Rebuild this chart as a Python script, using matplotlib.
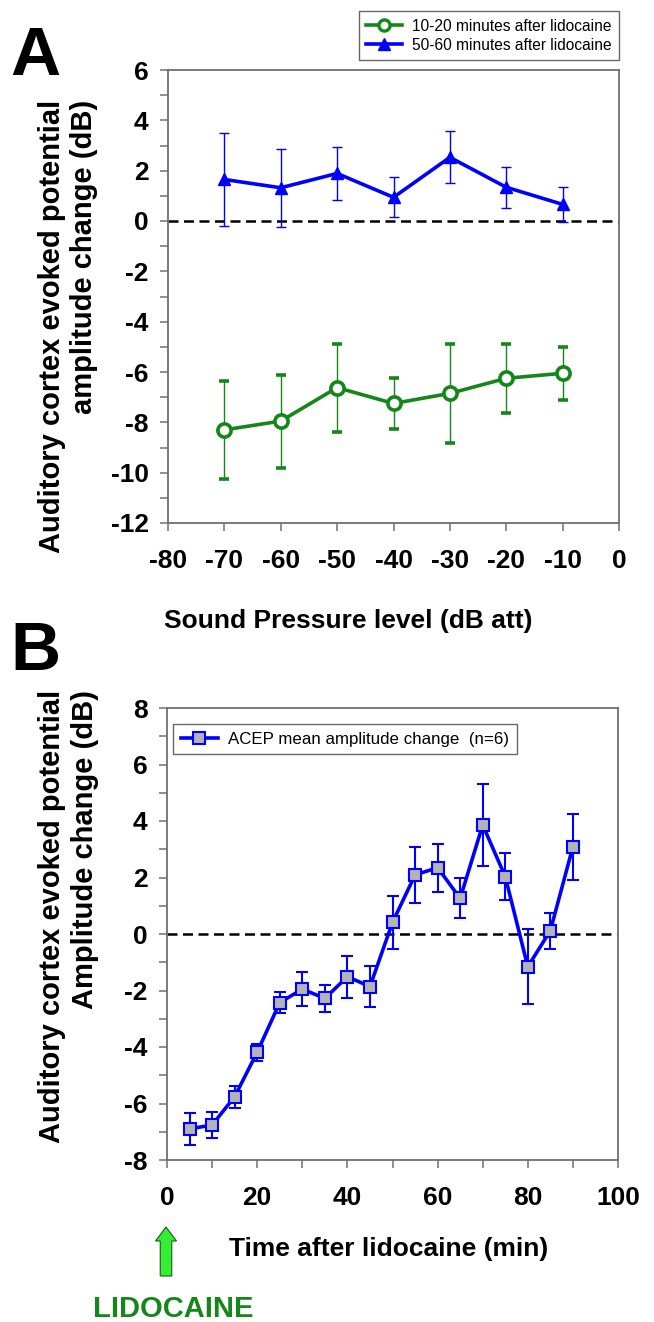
import matplotlib.pyplot as plt
from matplotlib.lines import Line2D
from matplotlib.patches import FancyArrow
from matplotlib.ticker import MultipleLocator

plt.rcParams['font.family'] = ['Liberation Sans', 'DejaVu Sans']
plt.rcParams['axes.unicode_minus'] = False

# Panel A: amplitude change vs sound level
spl = [-70, -60, -50, -40, -30, -20, -10]
early_mean = [-8.30, -7.95, -6.62, -7.25, -6.85, -6.25, -6.05]
early_err = [1.95, 1.85, 1.75, 1.00, 1.96, 1.37, 1.05]
late_mean = [1.65, 1.32, 1.89, 0.94, 2.53, 1.34, 0.66]
late_err = [1.83, 1.55, 1.07, 0.80, 1.03, 0.82, 0.70]

# Panel B: time course after injection
t_min = [5, 10, 15, 20, 25, 30, 35, 40, 45, 50, 55, 60, 65, 70, 75, 80, 85, 90]
acep_mean = [-6.90, -6.76, -5.76, -4.18, -2.43, -1.95, -2.28, -1.51, -1.86,
             0.41, 2.09, 2.35, 1.26, 3.86, 2.03, -1.16, 0.12, 3.09]
acep_err = [0.57, 0.47, 0.39, 0.30, 0.36, 0.60, 0.47, 0.74, 0.71,
            0.95, 1.00, 0.85, 0.71, 1.45, 0.82, 1.33, 0.64, 1.17]

W, H = 654, 1322
fig = plt.figure(figsize=(W / 100, H / 100), dpi=100)


def px_axes(left, top, right, bottom):
    return fig.add_axes([left / W, 1 - bottom / H, (right - left) / W, (bottom - top) / H])


def style_axis(ax):
    for s in ax.spines.values():
        s.set_color('#707070')
        s.set_linewidth(1.3)
    ax.tick_params(which='both', direction='out', color='#707070', width=1.1,
                   labelsize=19, length=6)
    ax.tick_params(axis='x', which='both', pad=13)
    ax.tick_params(axis='y', which='both', pad=8)
    for lab in ax.get_xticklabels() + ax.get_yticklabels():
        lab.set_fontweight('bold')


def ylabel_px(line1, line2, x1, x2, top):
    # two rotated lines, both ending at the same height
    for txt, x in ((line1, x1), (line2, x2)):
        fig.text(x / W, 1 - top / H, txt, rotation=90, fontsize=21,
                 fontweight='bold', ha='center', va='top', rotation_mode='default')


green = '#15861a'
blue = '#0000ff'

# ---- A ----
axA = px_axes(168, 70, 619, 523)
axA.axhline(0, color='k', ls='--', lw=1.8, dashes=(4, 2.2), zorder=1)
axA.errorbar(spl, early_mean, yerr=early_err, color=green, lw=2.6, elinewidth=1,
             capsize=3.5, capthick=1, marker='o', ms=9.5, mfc='white', mec=green,
             mew=2.6, zorder=3)
axA.errorbar(spl, late_mean, yerr=late_err, color=blue, lw=2.6, elinewidth=1,
             capsize=3.5, capthick=1, marker='^', ms=9, mfc=blue, mec=blue,
             zorder=3)
axA.set_xlim(-80, 0)
axA.set_ylim(-12, 6)
axA.set_xticks(range(-80, 1, 10))
axA.set_yticks(range(-12, 7, 2))
axA.yaxis.set_minor_locator(MultipleLocator(1))
style_axis(axA)
ylabel_px('Auditory cortex evoked potential', 'amplitude change (dB)', 52, 84, 100)
axA.set_xlabel('Sound Pressure level (dB att)', fontsize=19, fontweight='bold')
axA.xaxis.set_label_coords(0.40, -0.19)

handlesA = [
    Line2D([], [], color=green, lw=2.6, marker='o', ms=8, mfc='white', mec=green, mew=2.4),
    Line2D([], [], color=blue, lw=2.6, marker='^', ms=8, mfc=blue, mec=blue),
]
legA = fig.legend(handles=handlesA,
                  labels=['10-20 minutes after lidocaine', '50-60 minutes after lidocaine'],
                  loc='upper right', bbox_to_anchor=(619 / W, 1 - 11 / H),
                  borderaxespad=0, fontsize=11.2, frameon=True, fancybox=False,
                  handlelength=2.3, handletextpad=0.6, borderpad=0.5,
                  labelspacing=0.25)
legA.get_frame().set_edgecolor('#404040')
legA.get_frame().set_linewidth(1)

fig.text(10 / W, 1 - 75 / H, 'A', fontsize=50, fontweight='bold', va='baseline')

# ---- B ----
axB = px_axes(167, 708, 618, 1160)
axB.axhline(0, color='k', ls='--', lw=1.8, dashes=(4, 2.2), zorder=1)
axB.errorbar(t_min, acep_mean, yerr=acep_err, color=blue, lw=2.6, elinewidth=1.5,
             capsize=4.3, capthick=1.5, marker='s', ms=8.5, mfc='#b4b4b4', mec=blue,
             mew=1.5, zorder=3)
axB.set_xlim(0, 100)
axB.set_ylim(-8, 8)
axB.set_xticks(range(0, 101, 20))
axB.xaxis.set_minor_locator(MultipleLocator(10))
axB.set_yticks(range(-8, 9, 2))
axB.yaxis.set_minor_locator(MultipleLocator(1))
style_axis(axB)
ylabel_px('Auditory cortex evoked potential', 'Amplitude change (dB)', 52, 85, 690)
axB.set_xlabel('Time after lidocaine (min)', fontsize=19, fontweight='bold')
axB.xaxis.set_label_coords(0.492, -0.17)

handleB = Line2D([], [], color=blue, lw=2.6, marker='s', ms=8.5, mfc='#b4b4b4',
                 mec=blue, mew=1.5)
legB = axB.legend(handles=[handleB], labels=['ACEP mean amplitude change  (n=6)'],
                  loc='upper left', fontsize=12.2, frameon=True, fancybox=False,
                  handlelength=2.2, handletextpad=0.6, borderpad=0.45,
                  bbox_to_anchor=(6 / 451, 1 - 16 / 452), borderaxespad=0)
legB.get_frame().set_edgecolor('#404040')
legB.get_frame().set_linewidth(1)

fig.text(10 / W, 1 - 670 / H, 'B', fontsize=50, fontweight='bold', va='baseline')

# injection marker under t = 0
arrow = FancyArrow(1.66, (H - 1276) / 100, 0, 0.49, width=0.115, head_width=0.21,
                   head_length=0.14, length_includes_head=True,
                   transform=fig.dpi_scale_trans, facecolor='#33ee33',
                   edgecolor='#1a5a1a', lw=0.8)
fig.patches.append(arrow)
fig.text(173 / W, 1 - 1309 / H, 'LIDOCAINE', fontsize=21, fontweight='bold',
         color=green, ha='center', va='center')

fig.savefig('out.png', dpi=100)
